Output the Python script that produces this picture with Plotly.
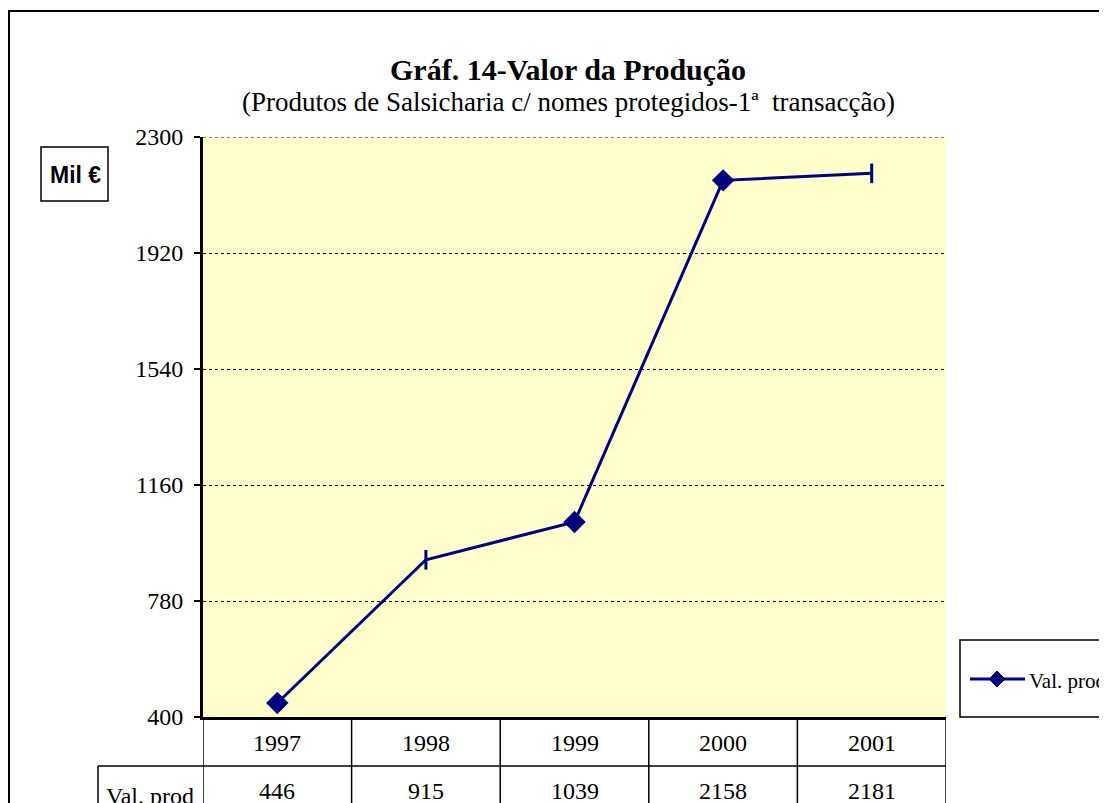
import plotly.graph_objects as go

years = ["1997", "1998", "1999", "2000", "2001"]
values = [446, 915, 1039, 2158, 2181]
marker_symbols = ["diamond", "line-ns", "diamond", "diamond", "line-ns"]
y_ticks = [400, 780, 1160, 1540, 1920, 2300]
series_name = "Val. prod"
title = "Gráf. 14-Valor da Produção"
subtitle = "(Produtos de Salsicharia c/ nomes protegidos-1ª  transacção)"
unit_label = "Mil €"

WIN_W, WIN_H = 1107, 803
OFF = 8  # page body margin
W_FIG, H_FIG = WIN_W - OFF, WIN_H - OFF
L, R, T, B = 203, 946, 137, 717  # plot area in window pixels
PW, PH = R - L, B - T
NAVY = "#000080"
FONT = "Liberation Serif"


def px(x):
    return (x - L) / PW


def py(y):
    return (B - y) / PH


fig = go.Figure()
fig.add_trace(go.Scatter(
    x=list(range(len(years))), y=values, mode="lines+markers", name=series_name,
    line=dict(color=NAVY, width=3),
    marker=dict(symbol=marker_symbols, size=14, color=NAVY,
                line=dict(color=NAVY, width=3)),
    showlegend=False, cliponaxis=False,
))

shapes = []
annotations = []
line_style = dict(color="black", width=1.5)
txt = dict(family=FONT, color="black")

# top gridline (at range edge)
shapes.append(dict(type="line", xref="x", yref="y", x0=-0.5, x1=len(years) - 0.5,
                   y0=y_ticks[-1], y1=y_ticks[-1],
                   line=dict(color="black", width=1, dash="dot")))

# outer chart border
shapes.append(dict(type="rect", xref="paper", yref="paper",
                   x0=px(9), x1=px(1115), y0=py(11), y1=py(815),
                   line=dict(color="black", width=2), layer="below"))

# data table
row1_y, row2_y, bottom_y = B, 766, 815
shapes.append(dict(type="line", xref="paper", yref="paper",
                   x0=px(98), x1=px(R), y0=py(row2_y), y1=py(row2_y), line=line_style))
shapes.append(dict(type="line", xref="paper", yref="paper",
                   x0=px(98), x1=px(98), y0=py(row2_y), y1=py(bottom_y), line=line_style))
for i in range(len(years) + 1):
    shapes.append(dict(type="line", xref="x", yref="paper",
                       x0=i - 0.5, x1=i - 0.5, y0=py(row1_y), y1=py(bottom_y), line=line_style))
for i, (yr, v) in enumerate(zip(years, values)):
    annotations.append(dict(x=i, y=py(743), xref="x", yref="paper",
                            text=yr, showarrow=False, font=dict(size=24, **txt),
                            xanchor="center", yanchor="middle"))
    annotations.append(dict(x=i, y=py(791), xref="x", yref="paper",
                            text=str(v), showarrow=False, font=dict(size=24, **txt),
                            xanchor="center", yanchor="middle"))
annotations.append(dict(x=px(150), y=py(796), xref="paper", yref="paper", text=series_name,
                        showarrow=False, font=dict(size=24, **txt),
                        xanchor="center", yanchor="middle"))

# titles
annotations.append(dict(x=px(568), y=py(69), xref="paper", yref="paper",
                        text="<b>" + title + "</b>", showarrow=False,
                        font=dict(size=30, **txt), xanchor="center", yanchor="middle"))
annotations.append(dict(x=px(568), y=py(102), xref="paper", yref="paper",
                        text=subtitle, showarrow=False,
                        font=dict(size=27, **txt), xanchor="center", yanchor="middle"))

# unit box
shapes.append(dict(type="rect", xref="paper", yref="paper",
                   x0=px(41), x1=px(108), y0=py(147), y1=py(201),
                   line=dict(color="black", width=1.5), fillcolor="white"))
annotations.append(dict(x=px(75), y=py(175), xref="paper", yref="paper",
                        text="<b>" + unit_label + "</b>", showarrow=False,
                        font=dict(size=23, family="Liberation Sans", color="black"),
                        xanchor="center", yanchor="middle"))

# legend (manual)
shapes.append(dict(type="rect", xref="paper", yref="paper",
                   x0=px(960), x1=px(1115), y0=py(640), y1=py(717),
                   line=dict(color="black", width=1.5), fillcolor="white"))
shapes.append(dict(type="line", xref="paper", yref="paper",
                   x0=px(970), x1=px(1025), y0=py(679), y1=py(679),
                   line=dict(color=NAVY, width=3)))
cx, cy, d = 997, 679, 8
shapes.append(dict(type="path", xref="paper", yref="paper",
                   path=f"M {px(cx - d)} {py(cy)} L {px(cx)} {py(cy - d)} L {px(cx + d)} {py(cy)} L {px(cx)} {py(cy + d)} Z",
                   fillcolor=NAVY, line=dict(color=NAVY, width=1)))
annotations.append(dict(x=px(1027), y=py(681), xref="paper", yref="paper", text=series_name,
                        showarrow=False, xanchor="left", yanchor="middle",
                        font=dict(size=21, **txt)))

fig.update_layout(
    width=W_FIG, height=H_FIG,
    margin=dict(l=L - OFF, r=WIN_W - R, t=T - OFF, b=WIN_H - B, pad=0),
    paper_bgcolor="white", plot_bgcolor="#FFFFCC",
    shapes=shapes, annotations=annotations,
    font=dict(family=FONT, color="black"),
    showlegend=False,
)
fig.update_xaxes(range=[-0.5, len(years) - 0.5], showticklabels=False, ticks="",
                 showgrid=False, zeroline=False, showline=True, linecolor="black", linewidth=3)
fig.update_yaxes(range=[y_ticks[0], y_ticks[-1]], tickvals=y_ticks,
                 showgrid=True, gridcolor="black", gridwidth=1, griddash="dot",
                 zeroline=False, showline=True, linecolor="black", linewidth=3,
                 ticks="outside", ticklen=6, tickwidth=2, tickcolor="black",
                 ticklabelstandoff=6,
                 tickfont=dict(size=24, **txt))

fig.write_html("out.html")
